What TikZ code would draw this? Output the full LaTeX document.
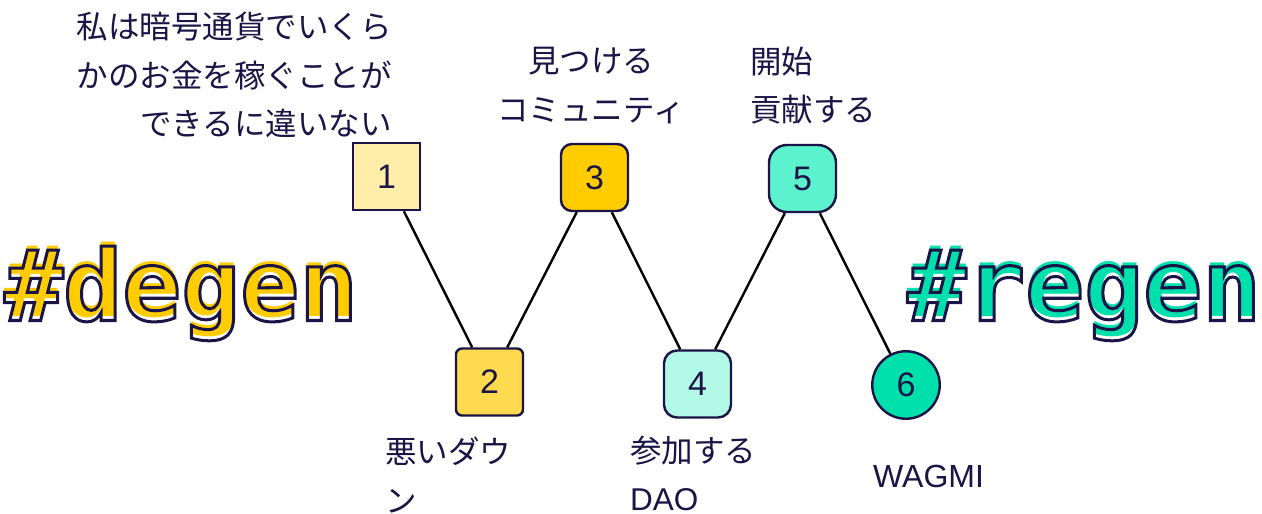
\documentclass[tikz,border=0pt]{standalone}
\usepackage{fontspec}
\setmainfont{Liberation Sans}
\newfontfamily\jp{Noto Sans CJK JP}
\newfontfamily\bigfont{DejaVu Sans Mono}
\definecolor{dark}{HTML}{1B1446}
\definecolor{c1}{HTML}{FFEEAA}
\definecolor{c2}{HTML}{FFDA4F}
\definecolor{c3}{HTML}{FFCC00}
\definecolor{c4}{HTML}{B3F9E8}
\definecolor{c5}{HTML}{5CF2CE}
\definecolor{c6}{HTML}{00E0AD}
\newcommand\strokedtext[1]{\special{pdf:literal direct 1 Tr 3 w}#1\special{pdf:literal direct 0 Tr}}
\tikzset{
  box/.style={draw=dark, line width=2.4pt, minimum size=67pt, inner sep=0pt,
    font=\fontsize{34}{34}\selectfont, text=dark},
  lbl/.style={text=dark, inner sep=0pt, font=\jp\fontsize{31.5}{48.5}\selectfont},
  link/.style={line width=2.4pt, draw=black},
  big/.style={inner sep=0pt, anchor=base west, font=\bigfont\bfseries\fontsize{98}{98}\selectfont},
}
\begin{document}
\begin{tikzpicture}[x=1pt,y=-1pt]
\useasboundingbox[fill=white] (0,0) rectangle (1262,514);
% boxes
\node[box, fill=c1] (b1) at (386.5,176.5) {1};
\node[box, fill=c2, rounded corners=6pt] (b2) at (489.5,382) {2};
\node[box, fill=c3, rounded corners=11pt] (b3) at (594.5,177.5) {3};
\node[box, fill=c4, rounded corners=13pt] (b4) at (697.5,384) {4};
\node[box, fill=c5, rounded corners=18pt] (b5) at (802.5,178.5) {5};
\node[box, fill=c6, circle, minimum size=67.5pt] (b6) at (906,385) {6};
% links
\draw[link] (b1) -- (b2);
\draw[link] (b2) -- (b3);
\draw[link] (b3) -- (b4);
\draw[link] (b4) -- (b5);
\draw[link] (b5) -- (b6);
% labels
\node[lbl, anchor=east, align=right] (t1) at (392,75) {私は暗号通貨でいくら\\かのお金を稼ぐことが\\できるに違いない};
\node[lbl, align=center] (t3) at (591,85.5) {見つける\\コミュニティ};
\node[lbl, anchor=west, align=left] (t5) at (750,85.5) {開始\\貢献する};
\node[lbl, anchor=west, align=left] (t2) at (385,475) {悪いダウ\\ン};
\node[lbl, anchor=west, align=left] (t4) at (630,473.5) {参加する\\{\rmfamily DAO}};
\node[text=dark, inner sep=0pt, font=\fontsize{32}{32}\selectfont, anchor=west] (t6) at (873,476) {WAGMI};
% big words
\node[big, text=c3] (dg0) at (4,316) {\#degen};
\node[big, text=c6] (rg0) at (907,316) {\#regen};
\node[big, text=dark] (dg) at (4,320.5) {\strokedtext{\#degen}};
\node[big, text=dark] (rg) at (907,320.5) {\strokedtext{\#regen}};
\end{tikzpicture}
\end{document}
